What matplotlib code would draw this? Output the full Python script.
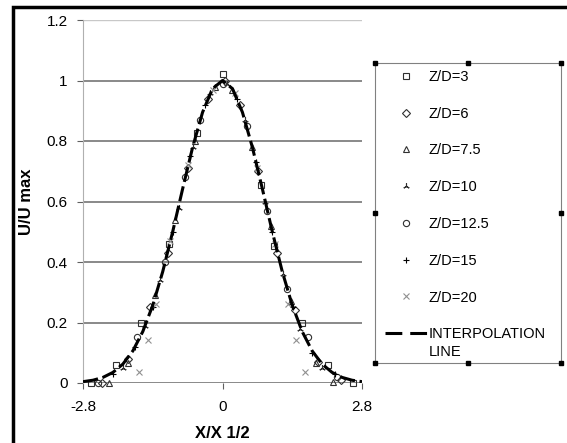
import matplotlib
matplotlib.use("Agg")
import matplotlib.pyplot as plt
from matplotlib.patches import Rectangle
from matplotlib.lines import Line2D

plt.rcParams['font.family'] = ['Liberation Sans', 'DejaVu Sans']

# Datos (X/X1/2, U/Umax)
zd3_x = [-2.64, -2.13, -1.63, -1.08, -0.52, 0.0, 0.78, 1.03, 1.60, 2.11, 2.61]
zd3_y = [0.0, 0.06, 0.20, 0.46, 0.825, 1.02, 0.655, 0.453, 0.20, 0.06, 0.0]

zd6_x = [-2.42, -1.90, -1.45, -1.10, -0.70, -0.30, 0.05, 0.35, 0.72, 1.10, 1.45, 1.92, 2.38]
zd6_y = [0.0, 0.08, 0.25, 0.43, 0.71, 0.94, 1.0, 0.92, 0.70, 0.43, 0.24, 0.07, 0.01]

zd75_x = [-2.27, -1.89, -1.35, -0.95, -0.55, -0.15, 0.20, 0.60, 0.98, 1.38, 1.88, 2.21]
zd75_y = [0.0, 0.066, 0.29, 0.54, 0.80, 0.98, 0.97, 0.78, 0.52, 0.27, 0.066, 0.004]

zd10_x = [-2.00, -1.55, -1.25, -0.88, -0.60, -0.25, 0.10, 0.45, 0.85, 1.22, 1.55, 2.00]
zd10_y = [0.05, 0.19, 0.34, 0.58, 0.78, 0.96, 0.99, 0.87, 0.60, 0.36, 0.18, 0.05]

zd125_x = [-2.50, -1.71, -1.15, -0.75, -0.45, 0.0, 0.50, 0.90, 1.30, 1.71, 2.30]
zd125_y = [0.0, 0.153, 0.40, 0.68, 0.87, 0.99, 0.85, 0.57, 0.31, 0.153, 0.02]

zd15_x = [-2.20, -1.75, -1.40, -1.00, -0.65, -0.35, 0.30, 0.68, 1.00, 1.42, 1.80, 2.25]
zd15_y = [0.03, 0.12, 0.25, 0.50, 0.75, 0.92, 0.94, 0.73, 0.50, 0.25, 0.10, 0.03]

zd20_x = [-1.67, -1.50, -1.33, -1.05, -0.70, -0.20, 0.25, 0.70, 1.05, 1.31, 1.48, 1.65]
zd20_y = [0.037, 0.142, 0.26, 0.47, 0.72, 0.97, 0.96, 0.71, 0.46, 0.26, 0.142, 0.037]

interp_x = [-2.8, -2.6, -2.4, -2.2, -2.0, -1.8, -1.6, -1.4, -1.2, -1.0, -0.8, -0.6, -0.4, -0.2, 0.0,
            0.2, 0.4, 0.6, 0.8, 1.0, 1.2, 1.4, 1.6, 1.8, 2.0, 2.2, 2.4, 2.6, 2.8]
interp_y = [0.0044, 0.0092, 0.0185, 0.035, 0.0625, 0.106, 0.170, 0.257, 0.368, 0.5, 0.642, 0.779, 0.895, 0.973, 1.0,
            0.973, 0.895, 0.779, 0.642, 0.5, 0.368, 0.257, 0.170, 0.106, 0.0625, 0.035, 0.0185, 0.0092, 0.0044]

x_ticks = [-2.8, 0, 2.8]
x_tick_labels = ['-2.8', '0', '2.8']
y_ticks = [0, 0.2, 0.4, 0.6, 0.8, 1, 1.2]
y_tick_labels = ['0', '0.2', '0.4', '0.6', '0.8', '1', '1.2']

W, H = 567, 443
fig = plt.figure(figsize=(W / 100, H / 100), dpi=100)
fig.patch.set_facecolor('white')
ax = fig.add_axes([83 / W, 1 - 383 / H, 279 / W, 363 / H])

# lineas de cuadricula
for yv in y_ticks[:-1]:
    ax.axhline(yv, color='#808080', lw=1.3, zorder=1)
ax.axhline(1.2, color='#c8c8c8', lw=1.0, zorder=1)

dark = '#303030'
ms = 4.5
series = [
    (zd3_x, zd3_y, 's', 'Z/D=3', dark, ms),
    (zd6_x, zd6_y, 'D', 'Z/D=6', dark, ms - 0.8),
    (zd75_x, zd75_y, '^', 'Z/D=7.5', dark, ms),
    (zd10_x, zd10_y, (3, 2, 0), 'Z/D=10', dark, ms),
    (zd125_x, zd125_y, 'o', 'Z/D=12.5', dark, ms),
    (zd15_x, zd15_y, '+', 'Z/D=15', '#000000', ms),
    (zd20_x, zd20_y, 'x', 'Z/D=20', '#909090', ms),
]
handles = []
for xs, ys, mk, lab, col, size in series:
    ax.plot(xs, ys, linestyle='none', marker=mk, markersize=size, markerfacecolor='none',
            markeredgecolor=col, markeredgewidth=0.8, zorder=3, clip_on=False)
    handles.append(Line2D([], [], linestyle='none', marker=mk, markersize=size, markerfacecolor='none',
                          markeredgecolor=col, markeredgewidth=0.8, label=lab))

ax.plot(interp_x, interp_y, color='black', lw=2.2, linestyle=(0, (5, 1.5)), zorder=4)
handles.append(Line2D([], [], color='black', lw=2.2, linestyle=(0, (5.5, 2.6)), label='INTERPOLATION'))

ax.set_xlim(-2.8, 2.8)
ax.set_ylim(0, 1.2)
ax.set_xticks(x_ticks)
ax.set_xticklabels(x_tick_labels)
ax.set_yticks(y_ticks)
ax.set_yticklabels(y_tick_labels)
ax.tick_params(axis='both', direction='out', length=4, width=0.8, color='#606060', labelsize=11)
ax.tick_params(axis='x', pad=8)
ax.tick_params(axis='y', pad=7)
for s in ['top', 'right', 'bottom']:
    ax.spines[s].set_visible(False)
ax.spines['left'].set_color('#b0b0b0')
ax.spines['left'].set_linewidth(0.8)

ax.set_xlabel('X/X 1/2', fontsize=12, fontweight='bold', labelpad=9)
ax.set_ylabel('U/U max', fontsize=12, fontweight='bold', labelpad=9)

# leyenda
leg = fig.legend(handles=handles, loc='upper left', bbox_to_anchor=(385 / W, 1 - 70 / H),
                 frameon=False, fontsize=10.5, handlelength=2.85, handletextpad=0.15,
                 labelspacing=1.56, borderpad=0, borderaxespad=0)

# segunda linea del texto de la interpolacion
fig.canvas.draw()
bb = leg.get_texts()[-1].get_window_extent().transformed(fig.transFigure.inverted())
fig.text(bb.x0, bb.y0 - 4 / H, 'LINE', fontsize=10.5, ha='left', va='top')

# marco de la leyenda con sus manijas
lx0, ly0, lx1, ly1 = 375 / W, 1 - 363 / H, 561 / W, 1 - 63 / H
fig.add_artist(Rectangle((lx0, ly0), lx1 - lx0, ly1 - ly0, transform=fig.transFigure,
                         fill=False, edgecolor='#808080', lw=0.8))
hx = [lx0, (lx0 + lx1) / 2, lx1, lx0, lx1, lx0, (lx0 + lx1) / 2, lx1]
hy = [ly1, ly1, ly1, (ly0 + ly1) / 2, (ly0 + ly1) / 2, ly0, ly0, ly0]
fig.add_artist(Line2D(hx, hy, transform=fig.transFigure, linestyle='none', marker='s',
                      markersize=3, color='black'))

# marco exterior (solo izquierda y arriba quedan dentro de la imagen)
fx, fy = 13 / W, 1 - 7 / H
fig.add_artist(Line2D([fx, fx, 1.0], [0.0, fy, fy], transform=fig.transFigure,
                      color='black', lw=2.5, solid_joinstyle='miter'))

fig.savefig('out.png', dpi=100)
